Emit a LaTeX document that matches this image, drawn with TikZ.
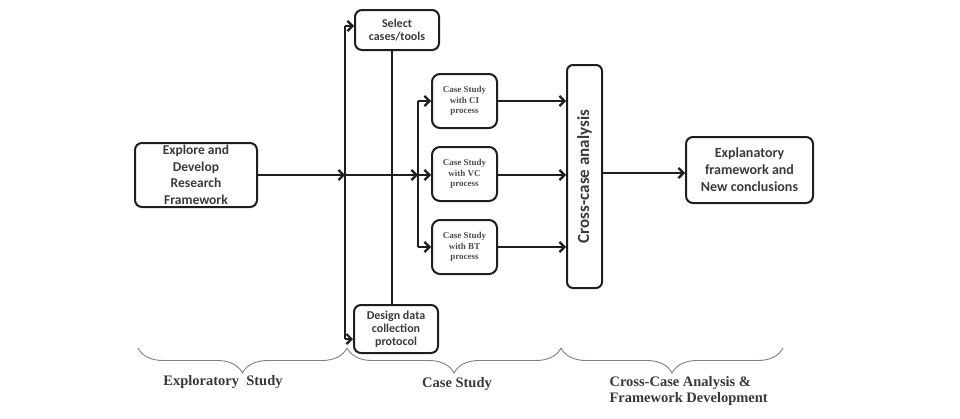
\documentclass[tikz,border=0pt]{standalone}
\usepackage{fontspec}
\setmainfont{Liberation Serif}
\newfontfamily\boxfont{Carlito}
\usepackage{tikz}
\usetikzlibrary{
  arrows.meta,
  positioning,
  decorations.pathreplacing
}
\definecolor{ink}{HTML}{1E1E1E}
\definecolor{boxtext}{HTML}{3A3A3A}
\definecolor{bracegray}{HTML}{808080}

\begin{document}
\begin{tikzpicture}[x=1pt,y=-1pt,
      stage/.style={
         rectangle,
         rounded corners=7pt,
         line width=2pt,
         draw=ink,
         align=center,
         inner sep=0pt,
         text=boxtext,
         font=\boxfont\bfseries\fontsize{13.5}{16.5}\selectfont
      },
      smallstage/.style={
         stage,
         minimum width=84pt,
         font=\boxfont\bfseries\fontsize{12}{13}\selectfont
      },
      casestudy/.style={
         stage,
         rounded corners=8pt,
         minimum width=65pt,
         minimum height=54pt,
         text=black!70,
         font=\bfseries\fontsize{9}{10.5}\selectfont
      },
      phase/.style={
         align=left,
         text=black!78,
         font=\bfseries\fontsize{14.5}{16}\selectfont
      },
      bracket/.style={
         decorate,
         decoration={brace,mirror,amplitude=25pt},
         draw=bracegray,
         line width=0.9pt
      },
      point/.style={coordinate},>={Straight Barb[length=5pt,width=10pt]},
      wire/.style={draw=ink,line width=2.2pt},
      tip/.style={wire,->},
      hv path/.style={to path={-| (\tikztotarget)}},
      vh path/.style={to path={|- (\tikztotarget)}}
    ]
    \useasboundingbox (0,0) rectangle (960,418);
    % stages
    \node (n21) [stage, minimum width=122pt, minimum height=64pt] at (196,175)
       {Explore and\\Develop\\Research\\Framework};
    \node (n13) [smallstage, minimum height=40pt] at (397,30) {Select\\cases/tools};
    \node (n33) [smallstage, minimum height=48pt] at (396,329)
       {Design data\\collection\\protocol};
    \node (n15) [casestudy] at (464.5,101) {Case Study\\with CI\\process};
    \node (n25) [casestudy] at (464.5,174) {Case Study\\with VC\\process};
    \node (n35) [casestudy] at (464.5,247) {Case Study\\with BT\\process};
    \node (n16) [stage, rotate=90, rounded corners=6pt, minimum width=223pt,
       minimum height=35pt, font=\boxfont\bfseries\fontsize{17}{19}\selectfont]
       at (584.5,176.5) {Cross-case analysis};
    \node (n17) [stage, minimum width=127pt, minimum height=66pt,
       font=\boxfont\bfseries\fontsize{14}{17}\selectfont] at (749.5,170)
       {Explanatory\\framework and\\New conclusions};
    % junctions
    \coordinate (n12) at (345,26);
    \coordinate (n22) at (345,175);
    \coordinate (n32) at (345,339);
    \coordinate (n14) at (418,101);
    \coordinate (n24) at (418,175);
    \coordinate (n34) at (418,247);
    \coordinate (n26) at (602,173);
    % connectors
    \draw[tip] (n21) -- (n22);
    \draw[wire] (n12) -- (n32);
    \draw[tip] (n12) -- (n12 -| n13.west);
    \draw[tip] (n32) -- (n32 -| n33.west);
    \draw[wire] ([xshift=-5pt]n13.south) -- ([xshift=-5pt]n13.south |- n33.north);
    \draw[tip] (n22) -- (n24);
    \draw[wire] (n14) -- (n34);
    \draw[tip] (n14) -- (n14 -| n15.west);
    \draw[tip] (n24) -- (n24 -| n25.west);
    \draw[tip] (n34) -- (n34 -| n35.west);
    \draw[tip] (n14 -| n15.east) -- (n14 -| n16.north);
    \draw[tip] (n24 -| n25.east) -- (n24 -| n16.north);
    \draw[tip] (n34 -| n35.east) -- (n34 -| n16.north);
    \draw[tip] (n26) -- (n26 -| n17.west);
    % phases
    \coordinate (b1) at (138,348);
    \coordinate (b2) at (347,348);
    \coordinate (b3) at (561,348);
    \coordinate (b4) at (783,348);
    \draw[bracket] (b1) -- (b2);
    \draw[bracket] (b2) -- (b3);
    \draw[bracket] (b3) -- (b4);
    \node (p1) [phase] at (223,382) {Exploratory\ \ Study};
    \node (p2) [phase] at (457,384) {Case Study};
    \node (p3) [phase, anchor=west] at (606,391)
       {Cross-Case Analysis \&\\Framework Development};
\end{tikzpicture}
\end{document}
